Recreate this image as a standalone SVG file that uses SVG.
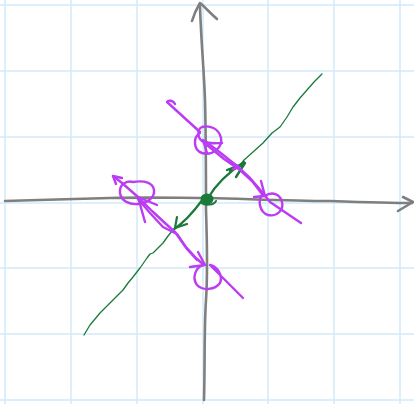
<svg xmlns="http://www.w3.org/2000/svg" width="414" height="404" viewBox="0 0 414 404">
<style>
.grid{stroke:#d2eafa;stroke-width:1.5;fill:none}
.axis{stroke:#7f7f7f;stroke-width:2.6;fill:none;stroke-linecap:round;stroke-linejoin:round}
.g{stroke:#1b7a3a;fill:none;stroke-linecap:round;stroke-linejoin:round}
.p{stroke:#bb3cf2;stroke-width:2.4;fill:none;stroke-linecap:round;stroke-linejoin:round}
</style>
<rect x="0" y="0" width="414" height="404" fill="#ffffff"/>
<g id="grid">
<path class="grid" d="M5,0V404M71,0V404M137,0V404M203,0V404M268,0V404M334,0V404M400,0V404"/>
<path class="grid" d="M0,5H414M0,71H414M0,137H414M0,203H414M0,268H414M0,334H414M0,400H414"/>
</g>
<g id="axes">
<path class="axis" d="M5,201 C40,200 70,199 110,198 C150,197 180,198 210,198 C250,199 290,201 330,201 C360,202 390,203 412,203"/>
<path class="axis" d="M403,197 L413,202 L398,211"/>
<path class="axis" d="M200,6 C201,40 204,70 205,100 C206,140 206,180 206,210 C207,240 208,270 206,300 C204,330 205,370 204,400"/>
<path class="axis" d="M192,21 C194,14 197,8 200,3 C205,7 210,13 217,19"/>
</g>
<g id="green">
<path class="g" stroke-width="1.3" d="M84,335 L90,325 L100,313 L110,303 L118,295 L123,290 L128,283 L133,277 L140,268 L147,258 L150,254 L153,253 L158,248 L163,243 L168,236 L173,230"/>
<path class="g" stroke-width="2.2" d="M173,230 C185,222 195,210 203,199"/>
<path class="g" stroke-width="2.2" d="M208,198 C215,186 226,174 244,162"/>
<path class="g" stroke-width="1.3" d="M238,168 L244,160 L253,152 L263,143 L272,133 L280,127 L287,117 L293,107 L300,98 L307,90 L314,82 L322,74"/>
<ellipse cx="207" cy="199" rx="6.5" ry="5.5" fill="#1b7a3a"/>
<path class="g" stroke-width="2" d="M201,203 C206,206 214,205 216,201"/>
<path class="g" stroke-width="2.4" d="M227,170 L245,163 L236,177 M230,171 L244,164"/>
<path class="g" stroke-width="2.2" d="M177,217 L175,228 L187,224"/>
</g>
<g id="purple">
<path class="p" d="M175,104 C173,100 168,100 167,102 L200,132"/>
<path class="p" d="M200,133 C193,137 193,150 202,153 C212,156 223,148 221,138 C219,128 209,125 202,127 C196,130 198,140 204,142 C210,144 216,143 222,143"/>
<path class="p" d="M203,140 L207,153"/>
<path class="p" d="M205,141 L222,154 L238,167 L250,178 L263,193 L270,202 L301,223"/>
<path class="p" d="M207,145 L224,159 L240,170 L252,181 L262,194"/>
<path class="p" d="M230,161 L239,167 L233,169"/>
<path class="p" d="M261,181 L265,196 L254,197"/>
<path class="p" d="M262,195 C258,200 259,212 268,215 C277,217 284,210 282,202 C280,194 272,191 265,196"/>
<path class="p" d="M113,176 L122,183 L138,197 L152,211 L166,224 L175,232 L185,246 L196,258 L204,265"/>
<path class="p" d="M138,199 L150,213 L163,227 L177,234 L187,249 L197,260"/>
<path class="p" d="M113,176 L122,178 M113,176 L116,184"/>
<path class="p" d="M133,182 C126,180 119,185 120,193 C121,201 130,205 138,204 C148,203 155,197 154,190 C153,183 145,180 133,182"/>
<path class="p" d="M138,197 L145,222 M138,197 L157,205"/>
<path class="p" d="M198,252 L205,265 L190,267"/>
<path class="p" d="M203,265 C195,268 192,278 197,285 C203,291 215,290 220,283 C223,276 218,267 210,265 L243,298"/>
</g>
</svg>
